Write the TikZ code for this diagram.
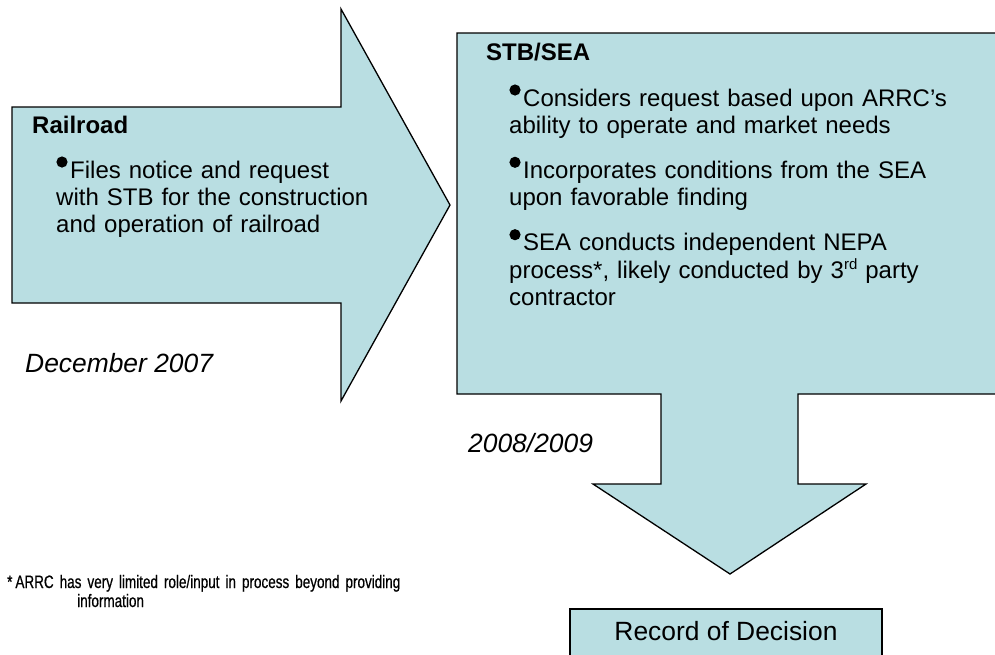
\documentclass[tikz,border=0pt]{standalone}
\usepackage{fontspec}
\setmainfont{Liberation Sans}
\newfontfamily\notefont[FakeStretch=0.75,FakeBold=0.6,WordSpace=0.6]{Liberation Sans}
\definecolor{panel}{RGB}{185,222,226}
% raised round bullet placed before the first line of a paragraph node
\newcommand\bulletdot[1]{\fill ([shift={(6,-16)}]#1.base west) circle[radius=5.6pt];}
\begin{document}
\begin{tikzpicture}[x=1pt,y=-1pt,
  panelshape/.style={fill=panel,draw=black,line width=1.3pt,line join=miter},
  titletext/.style={font=\fontsize{24}{27.3}\selectfont\bfseries,anchor=base west,inner sep=0pt},
  bullettext/.style={font=\fontsize{24}{27.3}\selectfont,anchor=base west,inner sep=0pt,
    text width=470pt,align=left},
  datelabel/.style={font=\fontsize{26.4}{30}\selectfont\itshape,anchor=base west,inner sep=0pt},
  notetext/.style={font=\notefont\fontsize{18}{19}\selectfont,anchor=base west,inner sep=0pt,
    text width=500pt,align=left}]
\useasboundingbox (0,0) rectangle (995,654);
\clip (0,0) rectangle (995,654);

% first stage: block arrow pointing right
\draw[panelshape] (12,107) -- (341,107) -- (341,9) -- (450,205) -- (341,401)
  -- (341,303) -- (12,303) -- cycle;

% second stage: panel with a downward block arrow
\draw[panelshape] (457,33) -- (1005,33) -- (1005,394) -- (798,394) -- (798,484)
  -- (866,484) -- (730,574) -- (593,484) -- (661,484) -- (661,394) -- (457,394) -- cycle;

% final stage box
\draw[panelshape] (570,609) rectangle (882,670);

% texts of the first stage
\node[titletext] (railroad) at (32,133) {Railroad};
\node[bullettext] (files) at (56,178)
  {\hspace*{14pt}Files notice and request\\with STB for the construction\\and operation of railroad};
\bulletdot{files}
\node[datelabel] (dec) at (25,372) {December 2007};

% texts of the second stage
\node[titletext] (stbsea) at (486,60) {STB/SEA};
\node[bullettext] (cons) at (509,106)
  {\hspace*{14pt}Considers request based upon ARRC’s\\ability to operate and market needs};
\bulletdot{cons}
\node[bullettext] (incorp) at (509,178.3)
  {\hspace*{14pt}Incorporates conditions from the SEA\\upon favorable finding};
\bulletdot{incorp}
\node[bullettext] (nepa) at (509,250.7)
  {\hspace*{14pt}SEA conducts independent NEPA\\process*, likely conducted by 3\raisebox{9pt}{\fontsize{15}{15}\selectfont rd} party\\contractor};
\bulletdot{nepa}
\node[datelabel] (years) at (468,452) {2008/2009};

% final stage label
\node[font=\fontsize{26.4}{30}\selectfont,anchor=base,inner sep=0pt] (rod) at (726,640) {Record of Decision};

% footnote
\node[notetext] (note) at (7,588)
  {*\,ARRC has very limited role/input in process beyond providing\\\hspace*{70pt}information};
\end{tikzpicture}
\end{document}
